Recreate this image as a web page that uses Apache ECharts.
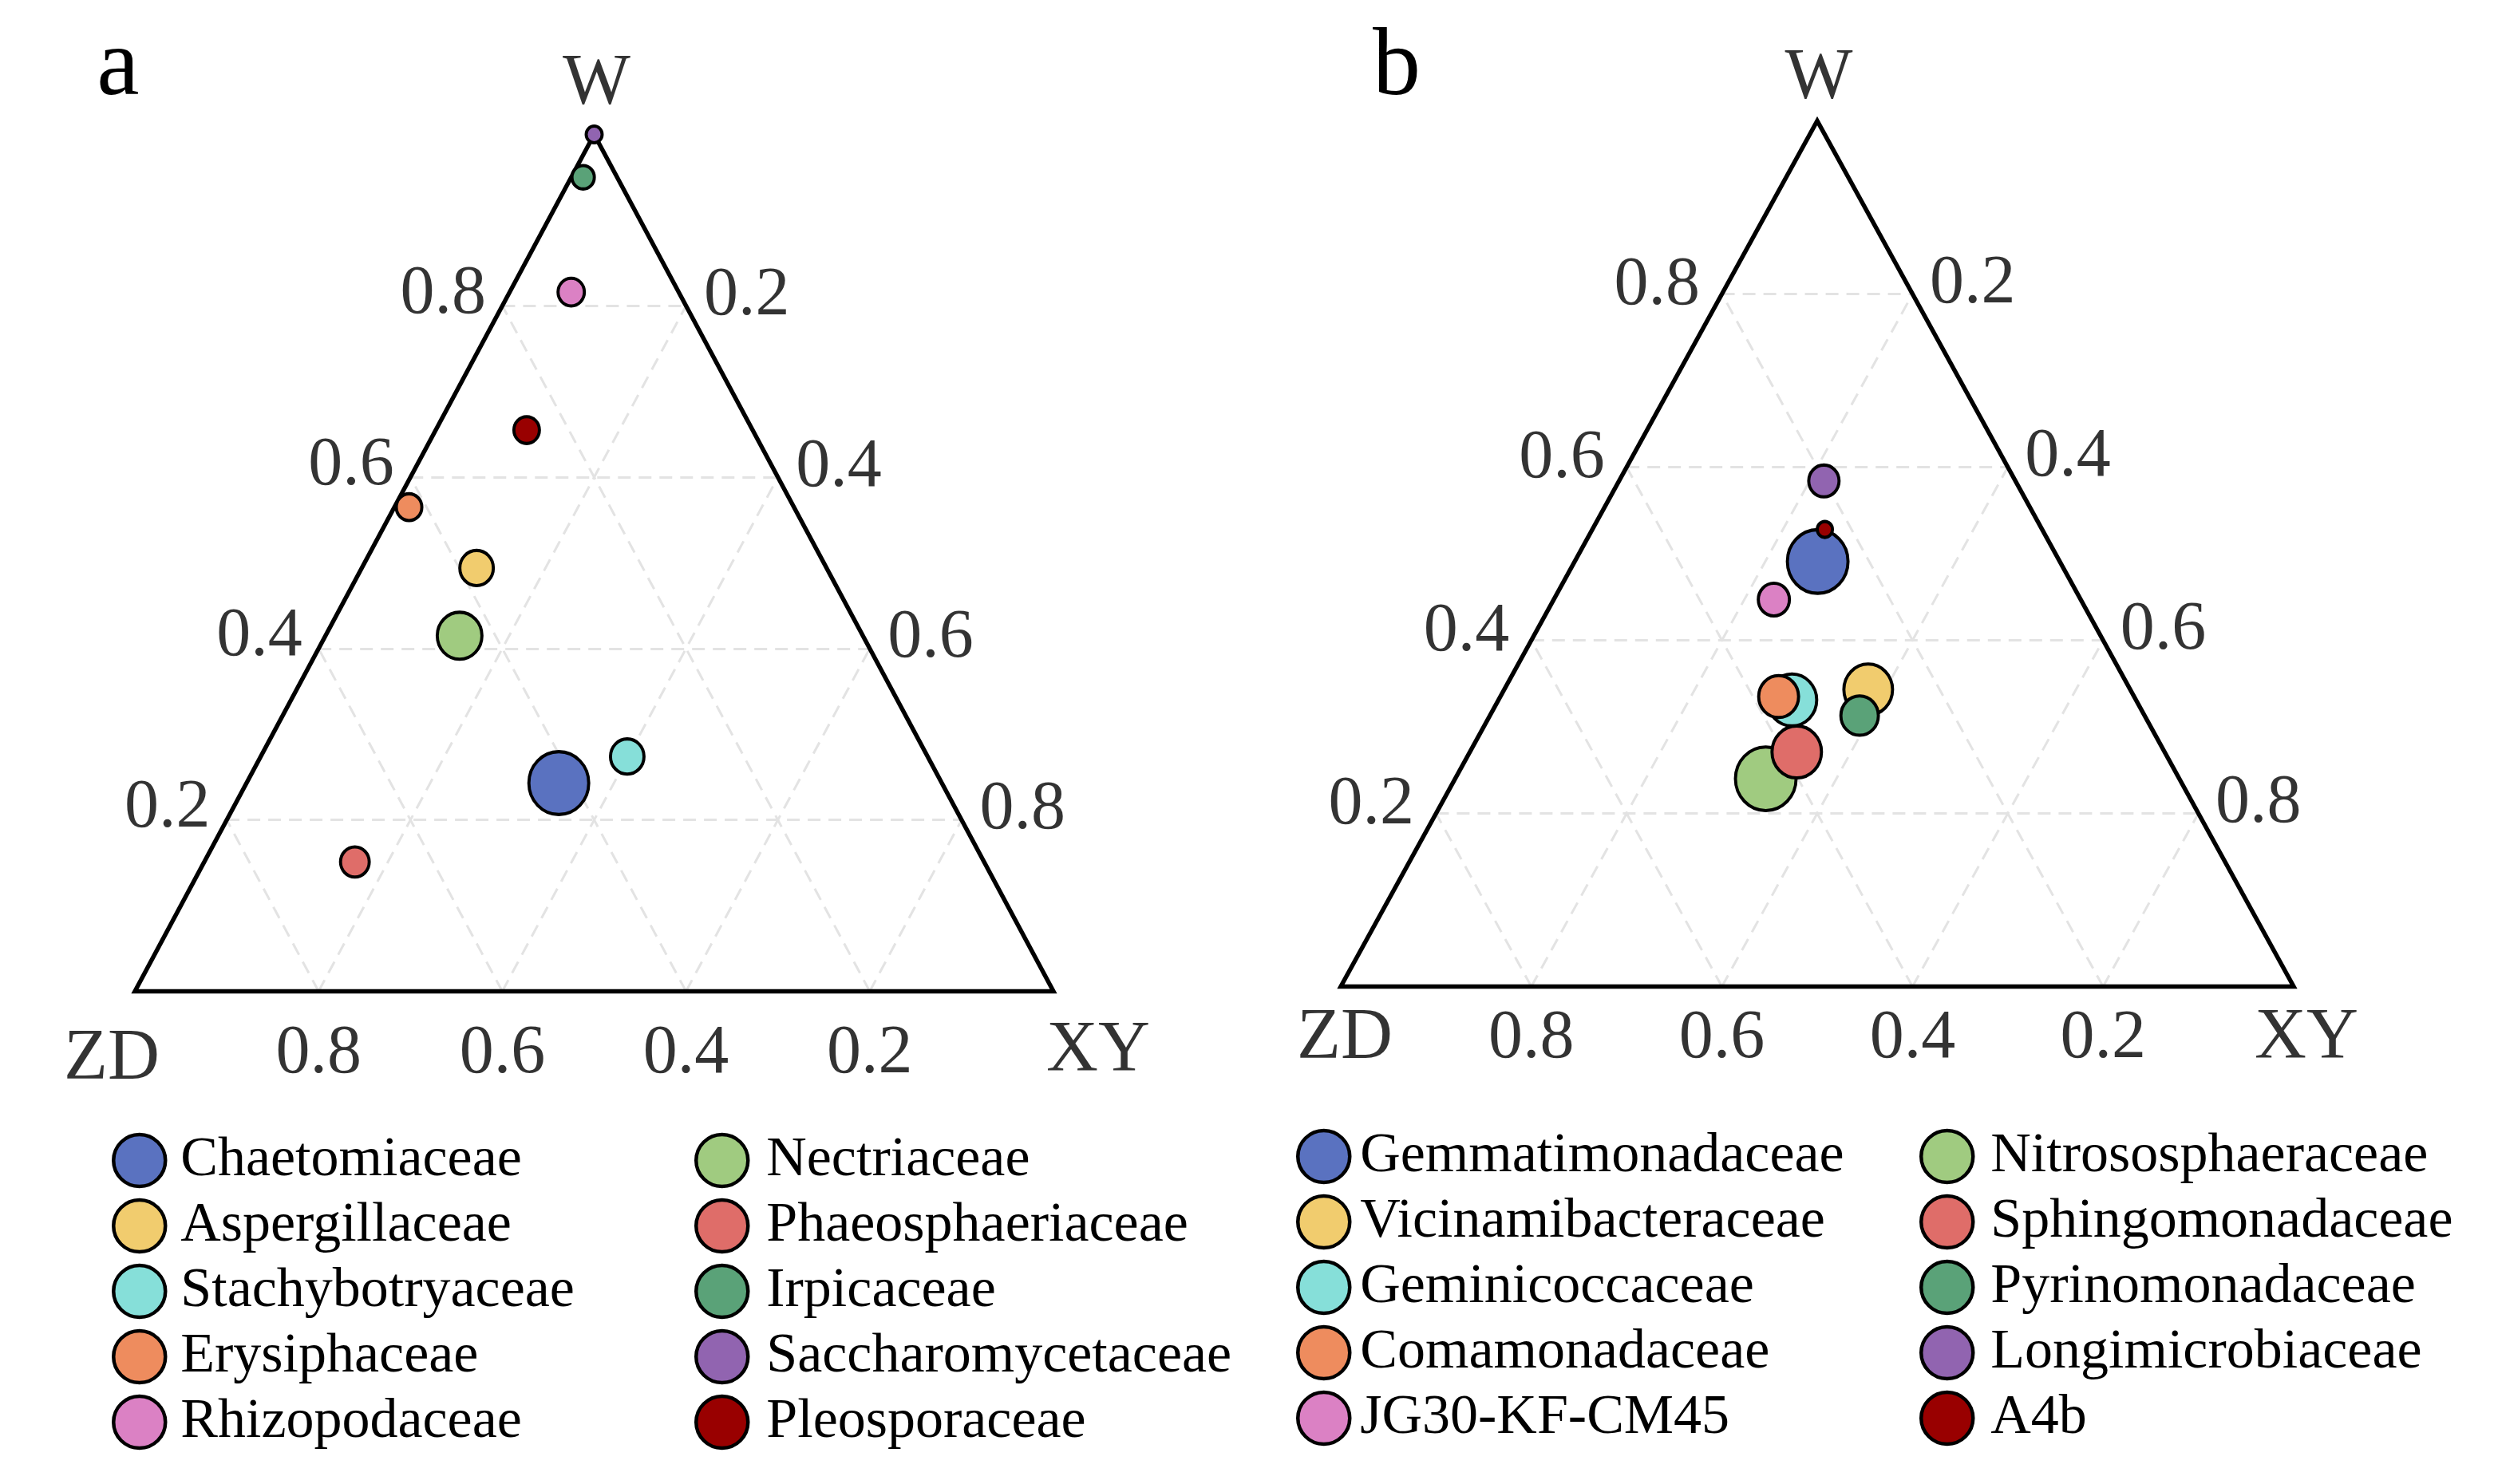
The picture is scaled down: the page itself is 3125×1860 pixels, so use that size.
<!DOCTYPE html>
<html><head><meta charset="utf-8">
<script src="https://cdn.jsdelivr.net/npm/echarts@6/dist/echarts.min.js"></script>
<style>html,body{margin:0;padding:0;background:#fff}#c{width:3125px;height:1860px}</style>
</head><body><div id="c"></div>
<script>
// ---------- data ----------
const familiesA = ['Chaetomiaceae','Aspergillaceae','Stachybotryaceae','Erysiphaceae','Rhizopodaceae','Nectriaceae','Phaeosphaeriaceae','Irpicaceae','Saccharomycetaceae','Pleosporaceae'];
const wA  = [0.243,0.494,0.274,0.565,0.816,0.415,0.151,0.950,1.000,0.655];
const zdA = [0.417,0.381,0.327,0.419,0.117,0.439,0.685,0.037,0.000,0.246];
const xyA = [0.340,0.125,0.399,0.016,0.067,0.146,0.164,0.013,0.000,0.099];
const abundA = [7.5,4.2,4.2,3.2,3.3,5.6,3.6,2.8,2.0,3.2];

const familiesB = ['Gemmatimonadaceae','Vicinamibacteraceae','Geminicoccaceae','Comamonadaceae','JG30-KF-CM45','Nitrososphaeraceae','Sphingomonadaceae','Pyrinomonadaceae','Longimicrobiaceae','A4b'];
const wB  = [0.491,0.343,0.331,0.335,0.447,0.240,0.271,0.313,0.584,0.528];
const zdB = [0.254,0.275,0.361,0.373,0.322,0.434,0.386,0.299,0.201,0.228];
const xyB = [0.255,0.382,0.308,0.292,0.231,0.326,0.343,0.388,0.215,0.244];
const abundB = [7.6,6.1,6.2,5.0,3.9,7.6,6.2,4.7,3.8,1.9];

const palette = ['#5A72C0','#F1CC6E','#86DFD9','#EE8C5E','#DB81C4','#A0CB80','#DF6D69','#5AA278','#9164B0','#990000'];
const tickValues = [0.2,0.4,0.6,0.8];
const axisNames = ['W','ZD','XY'];
const panelLetters = ['a','b'];

// ---------- helpers ----------
const FONT = "'Liberation Serif','Times New Roman',serif";
const ELLIPSE = 'path://M0,50A50,50,0,1,1,100,50A50,50,0,1,1,0,50Z';
function tern(w, zd, xy) { const s = w + zd + xy; return [(xy + w / 2) / s, w / s]; }

const panelCfg = [
  { grid: {left:169, top:168.5, width:1151, height:1074},
    leftLab: {dist:20, dy:-14}, rightLab: {dist:22, dy:-12}, bottomDy: 79,
    nameOff: [[3,-62],[-29,86],[56,76]] },
  { grid: {left:1680, top:151.5, width:1194, height:1085},
    leftLab: {dist:27, dy:-10}, rightLab: {dist:21, dy:-12}, bottomDy: 66,
    nameOff: [[2,-52],[5,66],[16,66]] }
];

const series = [];
const panels = [
  {fam: familiesA, w: wA, zd: zdA, xy: xyA, ab: abundA},
  {fam: familiesB, w: wB, zd: zdB, xy: xyB, ab: abundB}
];

panels.forEach((p, pi) => {
  const cfg = panelCfg[pi];
  const ax = {xAxisIndex: pi, yAxisIndex: pi};
  // dashed grid
  const gridLines = [];
  tickValues.forEach(t => {
    gridLines.push({coords: [tern(t, 1 - t, 0), tern(t, 0, 1 - t)]});
    gridLines.push({coords: [tern(0, 1 - t, t), tern(1 - t, 0, t)]});
    gridLines.push({coords: [tern(0, t, 1 - t), tern(1 - t, t, 0)]});
  });
  series.push(Object.assign({type:'lines', coordinateSystem:'cartesian2d', silent:true, clip:false, z:1,
    lineStyle:{color:'#e3e3e3', width:3, type:[16,10], opacity:1}, data: gridLines}, ax));
  // triangle outline
  series.push(Object.assign({type:'lines', coordinateSystem:'cartesian2d', polyline:true, silent:true, clip:false, z:2,
    lineStyle:{color:'#000', width:5.5, opacity:1, join:'miter'},
    data:[{coords:[tern(0,1,0), tern(0,0,1), tern(1,0,0), tern(0,1,0), tern(0,0,1)]}]}, ax));
  // points
  p.fam.forEach((name, i) => {
    const d = p.ab[i] * 10;
    series.push(Object.assign({type:'scatter', name, clip:false, z:5, silent:true,
      symbol: ELLIPSE, symbolSize:[d, d * 1.05],
      itemStyle:{color: palette[i], borderColor:'#000', borderWidth:4, opacity:1},
      data:[{value: tern(p.w[i], p.zd[i], p.xy[i])}]}, ax));
  });
  // tick labels
  const labStyle = {fontFamily: FONT, fontSize: 86, color:'#000'};
  const mk = (pts, label) => Object.assign({type:'scatter', silent:true, clip:false, z:3, symbolSize:1,
    itemStyle:{color:'rgba(0,0,0,0)'}, data: pts,
    label: Object.assign({show:true, formatter: q => q.name}, labStyle, label)}, ax);
  series.push(mk(tickValues.map(t => ({name: t.toFixed(1), value: tern(t, 1 - t, 0)})),
    {position:'left', distance: cfg.leftLab.dist, offset:[0, cfg.leftLab.dy]}));
  series.push(mk(tickValues.map(t => ({name: t.toFixed(1), value: tern(1 - t, 0, t)})),
    {position:'right', distance: cfg.rightLab.dist, offset:[0, cfg.rightLab.dy]}));
  series.push(mk(tickValues.map(t => ({name: t.toFixed(1), value: tern(0, t, 1 - t)})),
    {position:'inside', offset:[0, cfg.bottomDy]}));
  // vertex names
  const verts = [tern(1,0,0), tern(0,1,0), tern(0,0,1)];
  axisNames.forEach((n, k) => {
    series.push(mk([{name:n, value: verts[k]}], {position:'inside', offset: cfg.nameOff[k], fontSize: 90}));
  });
});

const legendCommon = {orient:'vertical', itemWidth:65, itemHeight:73, itemGap:9, padding:0,
  selectedMode:false, itemStyle:{borderColor:'#000', borderWidth:4.5},
  textStyle:{fontFamily: FONT, fontSize:70, color:'#000', lineHeight:73}};
const legends = [
  {data: familiesA.slice(0,5), left:140, top:1418, pad:14},
  {data: familiesA.slice(5), left:870, top:1418, pad:18},
  {data: familiesB.slice(0,5), left:1624, top:1413, pad:8},
  {data: familiesB.slice(5), left:2405, top:1413, pad:17}
].map(l => Object.assign({}, legendCommon, {data:l.data, left:l.left, top:l.top,
  textStyle: Object.assign({}, legendCommon.textStyle, {padding:[0,0,0,l.pad]})}));

const option = {
  animation:false,
  backgroundColor:'#fff',
  grid: panelCfg.map(c => Object.assign({containLabel:false}, c.grid)),
  xAxis: [0,1].map(i => ({type:'value', gridIndex:i, min:0, max:1, show:false})),
  yAxis: [0,1].map(i => ({type:'value', gridIndex:i, min:0, max:1, show:false})),
  legend: legends,
  graphic: [
    {type:'text', x:148, y:86, style:{text: panelLetters[0], font:`120px ${FONT}`, fill:'#000', align:'center', verticalAlign:'middle'}},
    {type:'text', x:1750, y:86, style:{text: panelLetters[1], font:`120px ${FONT}`, fill:'#000', align:'center', verticalAlign:'middle'}}
  ],
  series
};
const chart = echarts.init(document.getElementById('c'), null, {renderer:'canvas'});
chart.setOption(option);
</script>
</body></html>
